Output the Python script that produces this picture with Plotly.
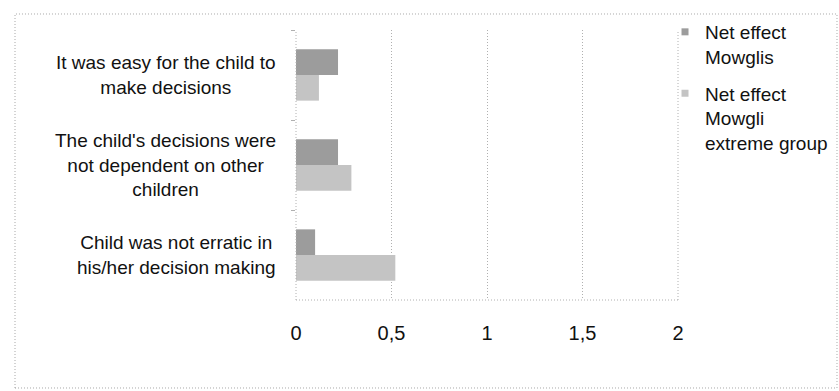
import plotly.graph_objects as go

# Survey statements (top to bottom) and the net effect for each group
statements = [
    "It was easy for the child to<br>make decisions",
    "The child's decisions were<br>not dependent on other<br>children",
    "Child was not erratic in<br>his/her decision making",
]
mowglis = [0.22, 0.22, 0.10]
extreme_group = [0.12, 0.29, 0.52]
series_names = ["Net effect<br>Mowglis", "Net effect<br>Mowgli<br>extreme group"]
series_colors = ["#9c9c9c", "#c4c4c4"]
x_ticks = [0, 0.5, 1, 1.5, 2]
x_tick_labels = ["0", "0,5", "1", "1,5", "2"]

FONT = "Liberation Sans, Arial, sans-serif"
GRID = "#b0b0b0"
TEXT = "#111111"

fig = go.Figure()
for vals, color in zip([mowglis, extreme_group], series_colors):
    fig.add_trace(go.Bar(
        y=statements, x=vals, orientation="h", showlegend=False,
        marker=dict(color=color, line=dict(width=0)),
    ))

# Legend entries with small square swatches
for i, (name, color) in enumerate(zip(series_names, series_colors)):
    fig.add_trace(go.Scatter(
        x=[None], y=[None], mode="markers", name=name,
        legendgroup=f"g{i}",
        marker=dict(symbol="square", size=7, color=color),
    ))

# Category labels: centred multi-line text, right edge next to the axis
for s in statements:
    fig.add_annotation(
        x=0, xref="paper", y=s, yref="y", text=s,
        xanchor="right", yanchor="middle", align="center",
        xshift=-18, showarrow=False,
        font=dict(family=FONT, size=19, color=TEXT),
    )

# Dotted lines along the left, bottom and right edges of the plot area
for x0, x1, y0, y1 in [(0, 1, 0, 0), (0, 0, 0, 1), (1, 1, 0, 1)]:
    fig.add_shape(type="line", xref="paper", yref="paper",
                  x0=x0, x1=x1, y0=y0, y1=y1,
                  line=dict(color=GRID, width=1, dash="1px,2px"))

# Outer chart frame
fig.add_shape(
    type="rect", xref="paper", yref="paper",
    x0=-0.7356, x1=1.4162, y0=-0.3259, y1=1.0593,
    line=dict(color="#a8a8a8", width=1, dash="1px,2px"),
    fillcolor="rgba(0,0,0,0)", layer="below",
)

fig.update_layout(
    width=839, height=391,
    margin=dict(l=296, r=161, t=30, b=91, autoexpand=False),
    paper_bgcolor="white", plot_bgcolor="white",
    barmode="group", bargap=0.43, bargroupgap=0,
    separators=",.",
    font=dict(family=FONT, size=19, color=TEXT),
    showlegend=True,
    legend=dict(
        x=0.966, y=1.063, xanchor="left", yanchor="top",
        font=dict(family=FONT, size=19, color=TEXT),
        traceorder="grouped", tracegroupgap=9, itemwidth=30,
        valign="top", bgcolor="rgba(0,0,0,0)",
    ),
    xaxis=dict(
        range=[0, 2], tickvals=x_ticks, ticktext=x_tick_labels,
        showgrid=True, gridcolor=GRID, griddash="1px,2px", gridwidth=1,
        zeroline=False, showline=False,
        ticks="", ticklabelstandoff=19,
        tickfont=dict(family=FONT, size=20, color=TEXT),
    ),
    yaxis=dict(
        autorange="reversed", showticklabels=False,
        showgrid=False, zeroline=False, showline=False,
        ticks="outside", tickson="boundaries", ticklen=4, tickcolor=GRID,
    ),
)

fig.write_html("out.html")
